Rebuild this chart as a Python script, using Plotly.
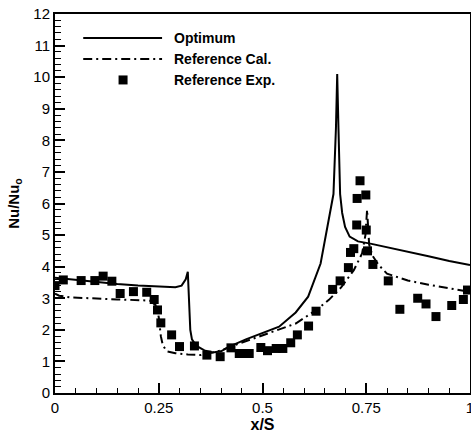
import plotly.graph_objects as go

# Optimum (solid line)
opt_x = [0.0, 0.05, 0.10, 0.15, 0.20, 0.25, 0.29, 0.305, 0.315, 0.320, 0.323, 0.326, 0.330,
         0.340, 0.36, 0.38, 0.40, 0.42, 0.46, 0.50, 0.54, 0.58, 0.61, 0.64, 0.651, 0.66,
         0.671, 0.677, 0.680, 0.683, 0.687, 0.692, 0.699, 0.71, 0.73, 0.76, 0.80, 0.85,
         0.90, 0.95, 1.0]
opt_y = [3.65, 3.58, 3.50, 3.45, 3.40, 3.37, 3.35, 3.40, 3.60, 3.84, 3.0, 2.0, 1.70,
         1.50, 1.35, 1.28, 1.32, 1.47, 1.70, 1.90, 2.10, 2.55, 3.05, 4.10, 4.90, 5.50,
         6.30, 8.40, 10.1, 8.40, 6.30, 5.70, 5.26, 4.95, 4.80, 4.73, 4.62, 4.48,
         4.33, 4.18, 4.05]

# Reference calculation (dash-dot line)
cal_x = [0.0, 0.01, 0.036, 0.10, 0.15, 0.205, 0.23, 0.245, 0.25, 0.255, 0.26, 0.27, 0.29,
         0.32, 0.35, 0.37, 0.40, 0.43, 0.46, 0.50, 0.54, 0.58, 0.63, 0.66, 0.69, 0.72,
         0.74, 0.748, 0.752, 0.757, 0.765, 0.78, 0.80, 0.85, 0.90, 0.95, 1.0]
cal_y = [3.15, 3.08, 3.03, 2.98, 2.96, 2.94, 2.92, 2.75, 2.40, 1.80, 1.50, 1.32, 1.26,
         1.22, 1.20, 1.25, 1.35, 1.50, 1.64, 1.82, 2.00, 2.20, 2.63, 2.95, 3.35, 3.89,
         4.42, 5.0, 5.8, 4.7, 4.35, 4.05, 3.78, 3.56, 3.43, 3.32, 3.20]

# Reference experiment (squares)
exp_x = [0.0, 0.02, 0.063, 0.096, 0.116, 0.137, 0.157, 0.189, 0.221, 0.239, 0.247, 0.255,
         0.281, 0.30, 0.336, 0.366, 0.398, 0.424, 0.444, 0.45, 0.468, 0.496, 0.512, 0.533,
         0.549, 0.568, 0.584, 0.611, 0.629, 0.669, 0.687, 0.707, 0.712, 0.72, 0.727, 0.728,
         0.735, 0.749, 0.75, 0.753, 0.766, 0.803, 0.831, 0.874, 0.894, 0.918, 0.956,
         0.984, 0.994]
exp_y = [3.40, 3.58, 3.56, 3.56, 3.70, 3.54, 3.15, 3.21, 3.19, 2.96, 2.63, 2.22,
         1.84, 1.47, 1.49, 1.20, 1.15, 1.43, 1.25, 1.25, 1.25, 1.44, 1.34, 1.41,
         1.41, 1.59, 1.84, 2.12, 2.59, 3.28, 3.55, 3.97, 4.45, 4.57, 5.32, 6.16,
         6.72, 6.27, 5.16, 4.50, 4.07, 3.55, 2.65, 3.00, 2.82, 2.42, 2.77,
         2.96, 3.26]

legend_labels = ["Optimum", "Reference Cal.", "Reference Exp."]

FONT = "Liberation Sans, Arial, Helvetica, sans-serif"
DASHDOT = "9px,4px,2px,4px"

fig = go.Figure()
fig.add_trace(go.Scatter(x=opt_x, y=opt_y, mode="lines", name=legend_labels[0],
                         line=dict(color="black", width=2), showlegend=False))
fig.add_trace(go.Scatter(x=cal_x, y=cal_y, mode="lines", name=legend_labels[1],
                         line=dict(color="black", width=2, dash=DASHDOT),
                         showlegend=False))
fig.add_trace(go.Scatter(x=exp_x, y=exp_y, mode="markers", name=legend_labels[2],
                         marker=dict(symbol="square", size=9, color="black"),
                         showlegend=False))

# custom legend (paper coordinates)
leg_y = [0.937, 0.881, 0.826]
fig.add_shape(type="line", xref="paper", yref="paper", x0=0.068, x1=0.258,
              y0=leg_y[0], y1=leg_y[0], line=dict(color="black", width=2))
fig.add_shape(type="line", xref="paper", yref="paper", x0=0.068, x1=0.258,
              y0=leg_y[1], y1=leg_y[1], line=dict(color="black", width=2, dash=DASHDOT))
fig.add_trace(go.Scatter(x=[0.164], y=[leg_y[2] * 12], mode="markers", showlegend=False,
                         marker=dict(symbol="square", size=9, color="black"), hoverinfo="skip"))
for lab, yy in zip(legend_labels, leg_y):
    fig.add_annotation(x=0.282, y=yy, xref="paper", yref="paper", text="<b>%s</b>" % lab,
                       showarrow=False, xanchor="left", yanchor="middle",
                       font=dict(family=FONT, size=14, color="black"))

fig.update_layout(
    width=471, height=436,
    margin=dict(l=55, r=1, t=14, b=43, autoexpand=False),
    paper_bgcolor="white", plot_bgcolor="white",
    font=dict(family=FONT, size=15, color="black"),
)
fig.update_xaxes(range=[0, 1], tickvals=[0, 0.25, 0.5, 0.75, 1], automargin=False,
                 ticklabeloverflow="allow",
                 ticks="inside", ticklen=10, tickwidth=1.5, tickcolor="black",
                 minor=dict(dtick=0.05, ticks="inside", ticklen=5, tickcolor="black", tickwidth=1),
                 showline=True, linecolor="black", linewidth=2, mirror=True,
                 showgrid=False, zeroline=False,
                 title=dict(text="<b>x/S</b>", font=dict(size=16), standoff=2))
fig.update_yaxes(range=[0, 12], dtick=1, tick0=0, automargin=False,
                 ticklabeloverflow="allow",
                 ticks="inside", ticklen=10, tickwidth=1.5, tickcolor="black",
                 minor=dict(dtick=0.2, ticks="inside", ticklen=6, tickcolor="black", tickwidth=1),
                 showline=True, linecolor="black", linewidth=2, mirror=True,
                 showgrid=False, zeroline=False,
                 title=dict(text="<b>Nu/Nu<sub>o</sub></b>", font=dict(size=15), standoff=10))

fig.write_html("out.html", config={"displayModeBar": False},
               post_script="document.body.style.margin='0px';document.body.style.overflow='hidden';")
